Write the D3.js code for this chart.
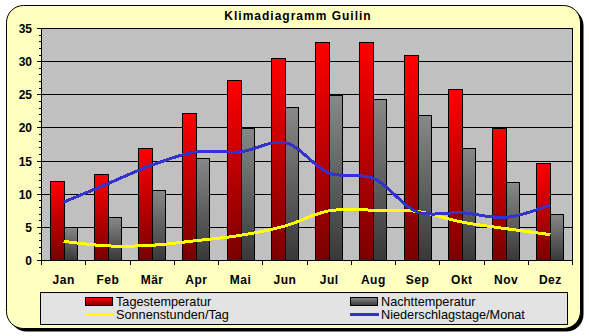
<!DOCTYPE html>
<html>
<head>
<meta charset="utf-8">
<script src="https://cdn.jsdelivr.net/npm/d3@7"></script>
<style>
  html, body { margin: 0; padding: 0; background: #ffffff; }
  svg { display: block; }
  text { font-family: "Liberation Sans", Arial, sans-serif; fill: #000; }
</style>
</head>
<body>
<svg id="chart" width="589" height="336"></svg>
<script>
// Klimadiagramm Guilin – monthly climate values
const months = ["Jan", "Feb", "Mär", "Apr", "Mai", "Jun", "Jul", "Aug", "Sep", "Okt", "Nov", "Dez"];
const tagesTemp = [12, 13, 17, 22.3, 27.2, 30.5, 33, 33, 31, 25.8, 20, 14.7];
const nachtTemp = [5, 6.5, 10.6, 15.5, 20, 23.2, 25, 24.3, 22, 17, 11.8, 7];
const sonnenstunden = [2.9, 2.2, 2.3, 3.0, 3.8, 5.2, 7.5, 7.6, 7.4, 5.8, 4.8, 3.9];
const niederschlagstage = [8.8, 11.6, 14.4, 16.4, 16.4, 17.8, 13.2, 12.4, 7.3, 7.2, 6.5, 8.4];
const yTicks = [0, 5, 10, 15, 20, 25, 30, 35];

const svg = d3.select("#chart");
const defs = svg.append("defs");

// bar gradients (per bar, top to bottom)
const gRed = defs.append("linearGradient").attr("id", "gradRed")
  .attr("x1", 0).attr("y1", 0).attr("x2", 0).attr("y2", 1);
gRed.append("stop").attr("offset", "0%").attr("stop-color", "#ff0000");
gRed.append("stop").attr("offset", "100%").attr("stop-color", "#780000");
const gGray = defs.append("linearGradient").attr("id", "gradGray")
  .attr("x1", 0).attr("y1", 0).attr("x2", 0).attr("y2", 1);
gGray.append("stop").attr("offset", "0%").attr("stop-color", "#888888");
gGray.append("stop").attr("offset", "100%").attr("stop-color", "#383838");

// outer frame with shadow
const frame = { x: 6.5, y: 5.5, w: 574, h: 323, r: 17 };
svg.append("rect")
  .attr("x", frame.x + 3).attr("y", frame.y + 3)
  .attr("width", frame.w).attr("height", frame.h)
  .attr("rx", frame.r).attr("ry", frame.r)
  .attr("fill", "#000");
svg.append("rect")
  .attr("x", frame.x).attr("y", frame.y)
  .attr("width", frame.w).attr("height", frame.h)
  .attr("rx", frame.r).attr("ry", frame.r)
  .attr("fill", "#ffffc0").attr("stroke", "#000").attr("stroke-width", 1);

// title
svg.append("text")
  .attr("x", 298).attr("y", 19.5)
  .attr("text-anchor", "middle")
  .style("font-size", "12px").style("font-weight", "bold")
  .style("letter-spacing", "1px")
  .text("Klimadiagramm Guilin");

// scales
const plot = { left: 41.5, right: 572.5, top: 28.5, bottom: 260.5 };
const x = d3.scaleBand().domain(months).range([plot.left, plot.right]).padding(0);
const y = d3.scaleLinear().domain([0, 35]).range([plot.bottom, plot.top]);

// plot background
svg.append("rect")
  .attr("x", plot.left).attr("y", plot.top)
  .attr("width", plot.right - plot.left).attr("height", plot.bottom - plot.top)
  .attr("fill", "#c0c0c0");

// horizontal gridlines
svg.append("g").selectAll("line").data(yTicks.filter(t => t > 0 && t < 35)).join("line")
  .attr("x1", plot.left).attr("x2", plot.right)
  .attr("y1", d => Math.round(y(d) - 0.5) + 0.5).attr("y2", d => Math.round(y(d) - 0.5) + 0.5)
  .attr("stroke", "#000").attr("stroke-width", 1)
  .attr("shape-rendering", "crispEdges");

// bars
const redW = 14, grayW = 13.5;
const bars = svg.append("g");
bars.selectAll("rect.tag").data(months).join("rect")
  .attr("class", "tag")
  .attr("x", (d) => Math.round(x(d) + x.bandwidth() / 2 - redW) + 0.5)
  .attr("y", (d, i) => Math.round(y(tagesTemp[i])) + 0.5)
  .attr("width", redW)
  .attr("height", (d, i) => plot.bottom - (Math.round(y(tagesTemp[i])) + 0.5))
  .attr("fill", "url(#gradRed)").attr("stroke", "#000").attr("stroke-width", 1)
  .attr("shape-rendering", "crispEdges");
bars.selectAll("rect.nacht").data(months).join("rect")
  .attr("class", "nacht")
  .attr("x", (d) => Math.round(x(d) + x.bandwidth() / 2) + 0.5)
  .attr("y", (d, i) => Math.round(y(nachtTemp[i])) + 0.5)
  .attr("width", 13)
  .attr("height", (d, i) => plot.bottom - (Math.round(y(nachtTemp[i])) + 0.5))
  .attr("fill", "url(#gradGray)").attr("stroke", "#000").attr("stroke-width", 1)
  .attr("shape-rendering", "crispEdges");

// smoothed lines
const line = (vals) => d3.line()
  .x((d, i) => x(months[i]) + x.bandwidth() / 2)
  .y(d => y(d))
  .curve(d3.curveCatmullRom.alpha(0.5))(vals);

svg.append("path").attr("d", line(sonnenstunden))
  .attr("fill", "none").attr("stroke", "#ffff00").attr("stroke-width", 3)
  .attr("shape-rendering", "crispEdges");
svg.append("path").attr("d", line(niederschlagstage))
  .attr("fill", "none").attr("stroke", "#3333cc").attr("stroke-width", 3)
  .attr("shape-rendering", "crispEdges");

// plot border
svg.append("rect")
  .attr("x", plot.left).attr("y", plot.top)
  .attr("width", plot.right - plot.left).attr("height", plot.bottom - plot.top)
  .attr("fill", "none").attr("stroke", "#000").attr("stroke-width", 1)
  .attr("shape-rendering", "crispEdges");

// y axis: major ticks, minor ticks, labels
const yAxis = svg.append("g");
yAxis.selectAll("line.major").data(yTicks).join("line")
  .attr("class", "major")
  .attr("x1", plot.left - 5).attr("x2", plot.left)
  .attr("y1", d => Math.round(y(d) - 0.5) + 0.5).attr("y2", d => Math.round(y(d) - 0.5) + 0.5)
  .attr("stroke", "#000").attr("shape-rendering", "crispEdges");
yAxis.selectAll("line.minor").data(d3.range(0, 36).filter(v => v % 5 !== 0)).join("line")
  .attr("class", "minor")
  .attr("x1", plot.left - 3).attr("x2", plot.left)
  .attr("y1", d => Math.round(y(d) - 0.5) + 0.5).attr("y2", d => Math.round(y(d) - 0.5) + 0.5)
  .attr("stroke", "#000").attr("shape-rendering", "crispEdges");
yAxis.selectAll("text").data(yTicks).join("text")
  .attr("x", 32).attr("y", d => y(d) + 4.5)
  .attr("text-anchor", "end")
  .style("font-size", "12px").style("font-weight", "bold")
  .text(d => d);

// x axis: ticks at category boundaries, labels centred
const xAxis = svg.append("g");
xAxis.selectAll("line").data(d3.range(0, 13)).join("line")
  .attr("x1", i => Math.round(plot.left + i * x.step() - 0.5) + 0.5)
  .attr("x2", i => Math.round(plot.left + i * x.step() - 0.5) + 0.5)
  .attr("y1", plot.bottom).attr("y2", plot.bottom + 4)
  .attr("stroke", "#000").attr("shape-rendering", "crispEdges");
xAxis.selectAll("text").data(months).join("text")
  .attr("x", d => x(d) + x.bandwidth() / 2)
  .attr("y", 283.5)
  .attr("text-anchor", "middle")
  .style("font-size", "12px").style("font-weight", "bold")
  .style("letter-spacing", "0.5px")
  .text(d => d);

// legend
const lg = svg.append("g");
lg.append("rect")
  .attr("x", 40.5).attr("y", 292.5).attr("width", 527).attr("height", 32)
  .attr("fill", "#e3e3e3").attr("stroke", "#000").attr("shape-rendering", "crispEdges");

const legendItems = [
  { label: "Tagestemperatur", type: "bar", fill: "url(#gradRed)", x: 85, y: 302 },
  { label: "Nachttemperatur", type: "bar", fill: "url(#gradGray)", x: 350, y: 302 },
  { label: "Sonnenstunden/Tag", type: "line", stroke: "#ffff00", x: 85, y: 314.5 },
  { label: "Niederschlagstage/Monat", type: "line", stroke: "#3333cc", x: 350, y: 314.5 }
];
legendItems.forEach(it => {
  if (it.type === "bar") {
    lg.append("rect")
      .attr("x", it.x + 0.5).attr("y", it.y - 4.5).attr("width", 27).attr("height", 8)
      .attr("fill", it.fill).attr("stroke", "#000").attr("shape-rendering", "crispEdges");
  } else {
    lg.append("line")
      .attr("x1", it.x).attr("x2", it.x + 29)
      .attr("y1", it.y).attr("y2", it.y)
      .attr("stroke", it.stroke).attr("stroke-width", 3).attr("shape-rendering", "crispEdges");
  }
  lg.append("text")
    .attr("x", it.x + 31).attr("y", it.y + 4)
    .style("font-size", "12.7px")
    .text(it.label);
});
</script>
</body>
</html>
